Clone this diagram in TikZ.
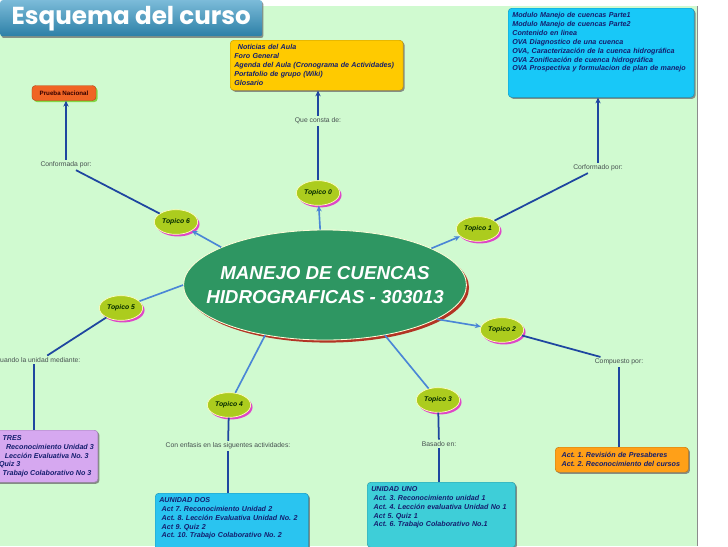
\documentclass[tikz,border=0pt]{standalone}
\usepackage{fontspec}
\setmainfont{Liberation Sans}
\newfontfamily\titlefont{Poppins}
\usetikzlibrary{arrows.meta,positioning,calc,shapes.geometric,shadows}
\definecolor{bggreen}{RGB}{208,250,208}
\definecolor{titleblue}{RGB}{52,150,196}
\definecolor{hubgreen}{RGB}{46,150,98}
\definecolor{hubshade}{RGB}{178,52,36}
\definecolor{topicgreen}{RGB}{172,204,30}
\definecolor{topicpink}{RGB}{222,70,200}
\definecolor{linkblue}{RGB}{30,70,160}
\definecolor{armblue}{RGB}{74,134,214}
\definecolor{newsyellow}{RGB}{255,202,0}
\definecolor{modcyan}{RGB}{24,200,248}
\definecolor{nacorange}{RGB}{240,100,36}
\definecolor{nacshade}{RGB}{130,215,70}
\definecolor{trespurple}{RGB}{214,168,240}
\definecolor{doscyan}{RGB}{42,196,240}
\definecolor{unoteal}{RGB}{62,206,216}
\definecolor{actorange}{RGB}{255,160,24}
\definecolor{boxtext}{RGB}{20,30,110}
\definecolor{lbltext}{RGB}{70,80,80}
\newcommand{\boxfont}{\fontsize{6.1}{7.6}\selectfont\bfseries\itshape}
\newcommand{\fillto}[1]{\rule[-#1]{0pt}{0pt}}
\frenchspacing

\begin{document}
\begin{tikzpicture}[x=.03cm,y=-.03cm,
  hub/.style={ellipse,fill=hubgreen,draw=yellow!15,line width=.7pt,minimum width=8.4cm,minimum height=3.3cm,inner xsep=-16pt,inner ysep=0pt,align=center,text=white,font=\fontsize{16}{20.5}\selectfont\bfseries\itshape,drop shadow={shadow xshift=2.2pt,shadow yshift=-2.2pt,fill=hubshade,opacity=1}},
  topic/.style={ellipse,fill=topicgreen,draw=yellow!25,line width=.6pt,minimum width=1.3cm,minimum height=.74cm,inner sep=0pt,text=black!85!green,font=\fontsize{5.8}{6}\selectfont\bfseries\itshape,drop shadow={shadow xshift=1.6pt,shadow yshift=-1.8pt,fill=topicpink,opacity=1}},
  infobox/.style={draw=#1!75!black,fill=#1,rounded corners=3pt,line width=.4pt,anchor=north west,align=left,inner sep=3.5pt,text=boxtext,font=\boxfont,drop shadow={shadow xshift=1.3pt,shadow yshift=-1.3pt,fill=black!55,opacity=.8}},
  lbl/.style={font=\fontsize{5.8}{6}\selectfont,text=lbltext,inner sep=1.5pt},
  link/.style={linkblue,line width=1.5pt},
  arm/.style={armblue,line width=1.4pt},
  tip/.style={-{Stealth[length=5pt,width=4.5pt]}}]
\clip (0,0) rectangle (728,546);
% page and title bar
\fill[white] (0,0) rectangle (728,546);
\fill[bggreen] (0,6) rectangle (697,546);
\draw[black!45,line width=.8pt] (697,6) -- (697,546);
\node[anchor=north west,minimum width=7.86cm,minimum height=1.08cm,inner sep=0pt,rounded corners=2pt,top color=titleblue!65!white,bottom color=titleblue!85!black,drop shadow={shadow xshift=1pt,shadow yshift=-1.5pt,fill=black!60,opacity=.7},text=white,font=\titlefont\fontsize{21}{21}\selectfont\bfseries] (title) at (0,0) {Esquema del curso};

% center and topics
\node[hub] (hub) at (325,285) {MANEJO DE CUENCAS\\HIDROGRAFICAS - 303013};
\node[topic] (t0) at (318,193) {Topico 0};
\node[topic] (t1) at (478,229) {Topico 1};
\node[topic] (t2) at (502,330) {Topico 2};
\node[topic] (t3) at (438,400) {Topico 3};
\node[topic] (t4) at (229,405) {Topico 4};
\node[topic] (t5) at (121,308) {Topico 5};
\node[topic] (t6) at (176,222) {Topico 6};

% linking phrases
\node[lbl] (l0) at (318,121) {Que consta de:};
\node[lbl] (l1) at (598,168) {Corformado por:};
\node[lbl] (l2) at (619,362) {Compuesto por:};
\node[lbl] (l3) at (439,444) {Basado en:};
\node[lbl] (l4) at (228,446) {Con enfasis en las siguentes actividades:};
\node[lbl,anchor=west,inner xsep=0pt] (l5) at (0,360) {uando la unidad mediante:};
\node[lbl] (l6) at (66,165) {Conformada por:};

% content boxes
\node[infobox=newsyellow,text width=4.94cm,minimum height=1.5cm] (news) at (230,40) {\hspace*{3pt}Noticias del Aula\\Foro General\\Agenda del Aula (Cronograma de Actividades)\\Portafolio de grupo (Wiki)\\Glosario};
\node[infobox=modcyan,text width=5.33cm] (mod) at (508,8) {Modulo Manejo de cuencas Parte1\\Modulo Manejo de cuencas Parte2\\Contenido en linea\\OVA Diagnostico de una cuenca\\OVA, Caracterización de la cuenca hidrográfica\\OVA Zonificación de cuenca hidrográfica\\OVA Prospectiva y formulacion de plan de manejo\fillto{19pt}};
\node[draw=nacorange!75!black,fill=nacorange,rounded corners=3pt,line width=.4pt,minimum width=1.92cm,minimum height=.45cm,inner sep=1pt,text=black!80!red,font=\fontsize{5.3}{6}\selectfont\bfseries,drop shadow={shadow xshift=1.4pt,shadow yshift=-1.4pt,fill=nacshade,opacity=1}] (nac) at (64,93) {Prueba Nacional};
\node[infobox=trespurple,minimum height=1.56cm] (tres) at (-10,430) {\hspace*{7pt}TRES\\\hspace*{10pt}Reconocimiento Unidad 3\\\hspace*{9pt}Lección Evaluativa No. 3\\\hspace*{4pt}Quiz 3\\\hspace*{7pt}Trabajo Colaborativo No 3};
\node[infobox=doscyan,text width=4.35cm] (dos) at (155,493) {AUNIDAD DOS\\\hspace*{2pt}Act 7. Reconocimiento Unidad 2\\\hspace*{2pt}Act. 8. Lección Evaluativa Unidad No. 2\\\hspace*{2pt}Act 9. Quiz 2\\\hspace*{2pt}Act. 10. Trabajo Colaborativo No. 2\fillto{10pt}};
\node[infobox=unoteal,text width=4.2cm] (uno) at (367,482) {UNIDAD UNO\\\hspace*{2pt}Act. 3. Reconocimiento unidad 1\\\hspace*{2pt}Act. 4. Lección evaluativa Unidad No 1\\\hspace*{2pt}Act 5. Quiz 1\\\hspace*{2pt}Act. 6. Trabajo Colaborativo No.1\fillto{14pt}};
\node[infobox=actorange,text width=3.75cm,minimum height=.75cm] (act) at (555,447) {\hspace*{2pt}Act. 1. Revisión de Presaberes\\\hspace*{2pt}Act. 2. Reconocimiento del cursos};

% arms from the center
\foreach \a/\t in {95/t0,19/t1,-17/t2,160/t6} \draw[arm,tip] (hub.\a) -- (\t);
\foreach \a/\t in {-40/t3,-140/t4,180/t5} \draw[arm] (hub.\a) -- (\t);

% topic links
\foreach \t/\l in {t0/l0,t1/l1,t2/l2,t3/l3,t4/l4,t5/l5,t6/l6} \draw[link] (\t) -- (\l);
\draw[link,tip] (l0) -- (l0 |- news.south);
\draw[link,tip] (l1) -- (l1 |- mod.south);
\draw[link,tip] (l6) -- (l6 |- nac.south);
\draw[link] (l2) -- (l2 |- act.north);
\draw[link] (l3) -- (l3 |- uno.north);
\draw[link] (l4) -- (l4 |- dos.north);
\path ($(l5.south west)!.42!(l5.south east)$) coordinate (c5);
\draw[link] (c5) -- (c5 |- tres.north);
\end{tikzpicture}
\end{document}
